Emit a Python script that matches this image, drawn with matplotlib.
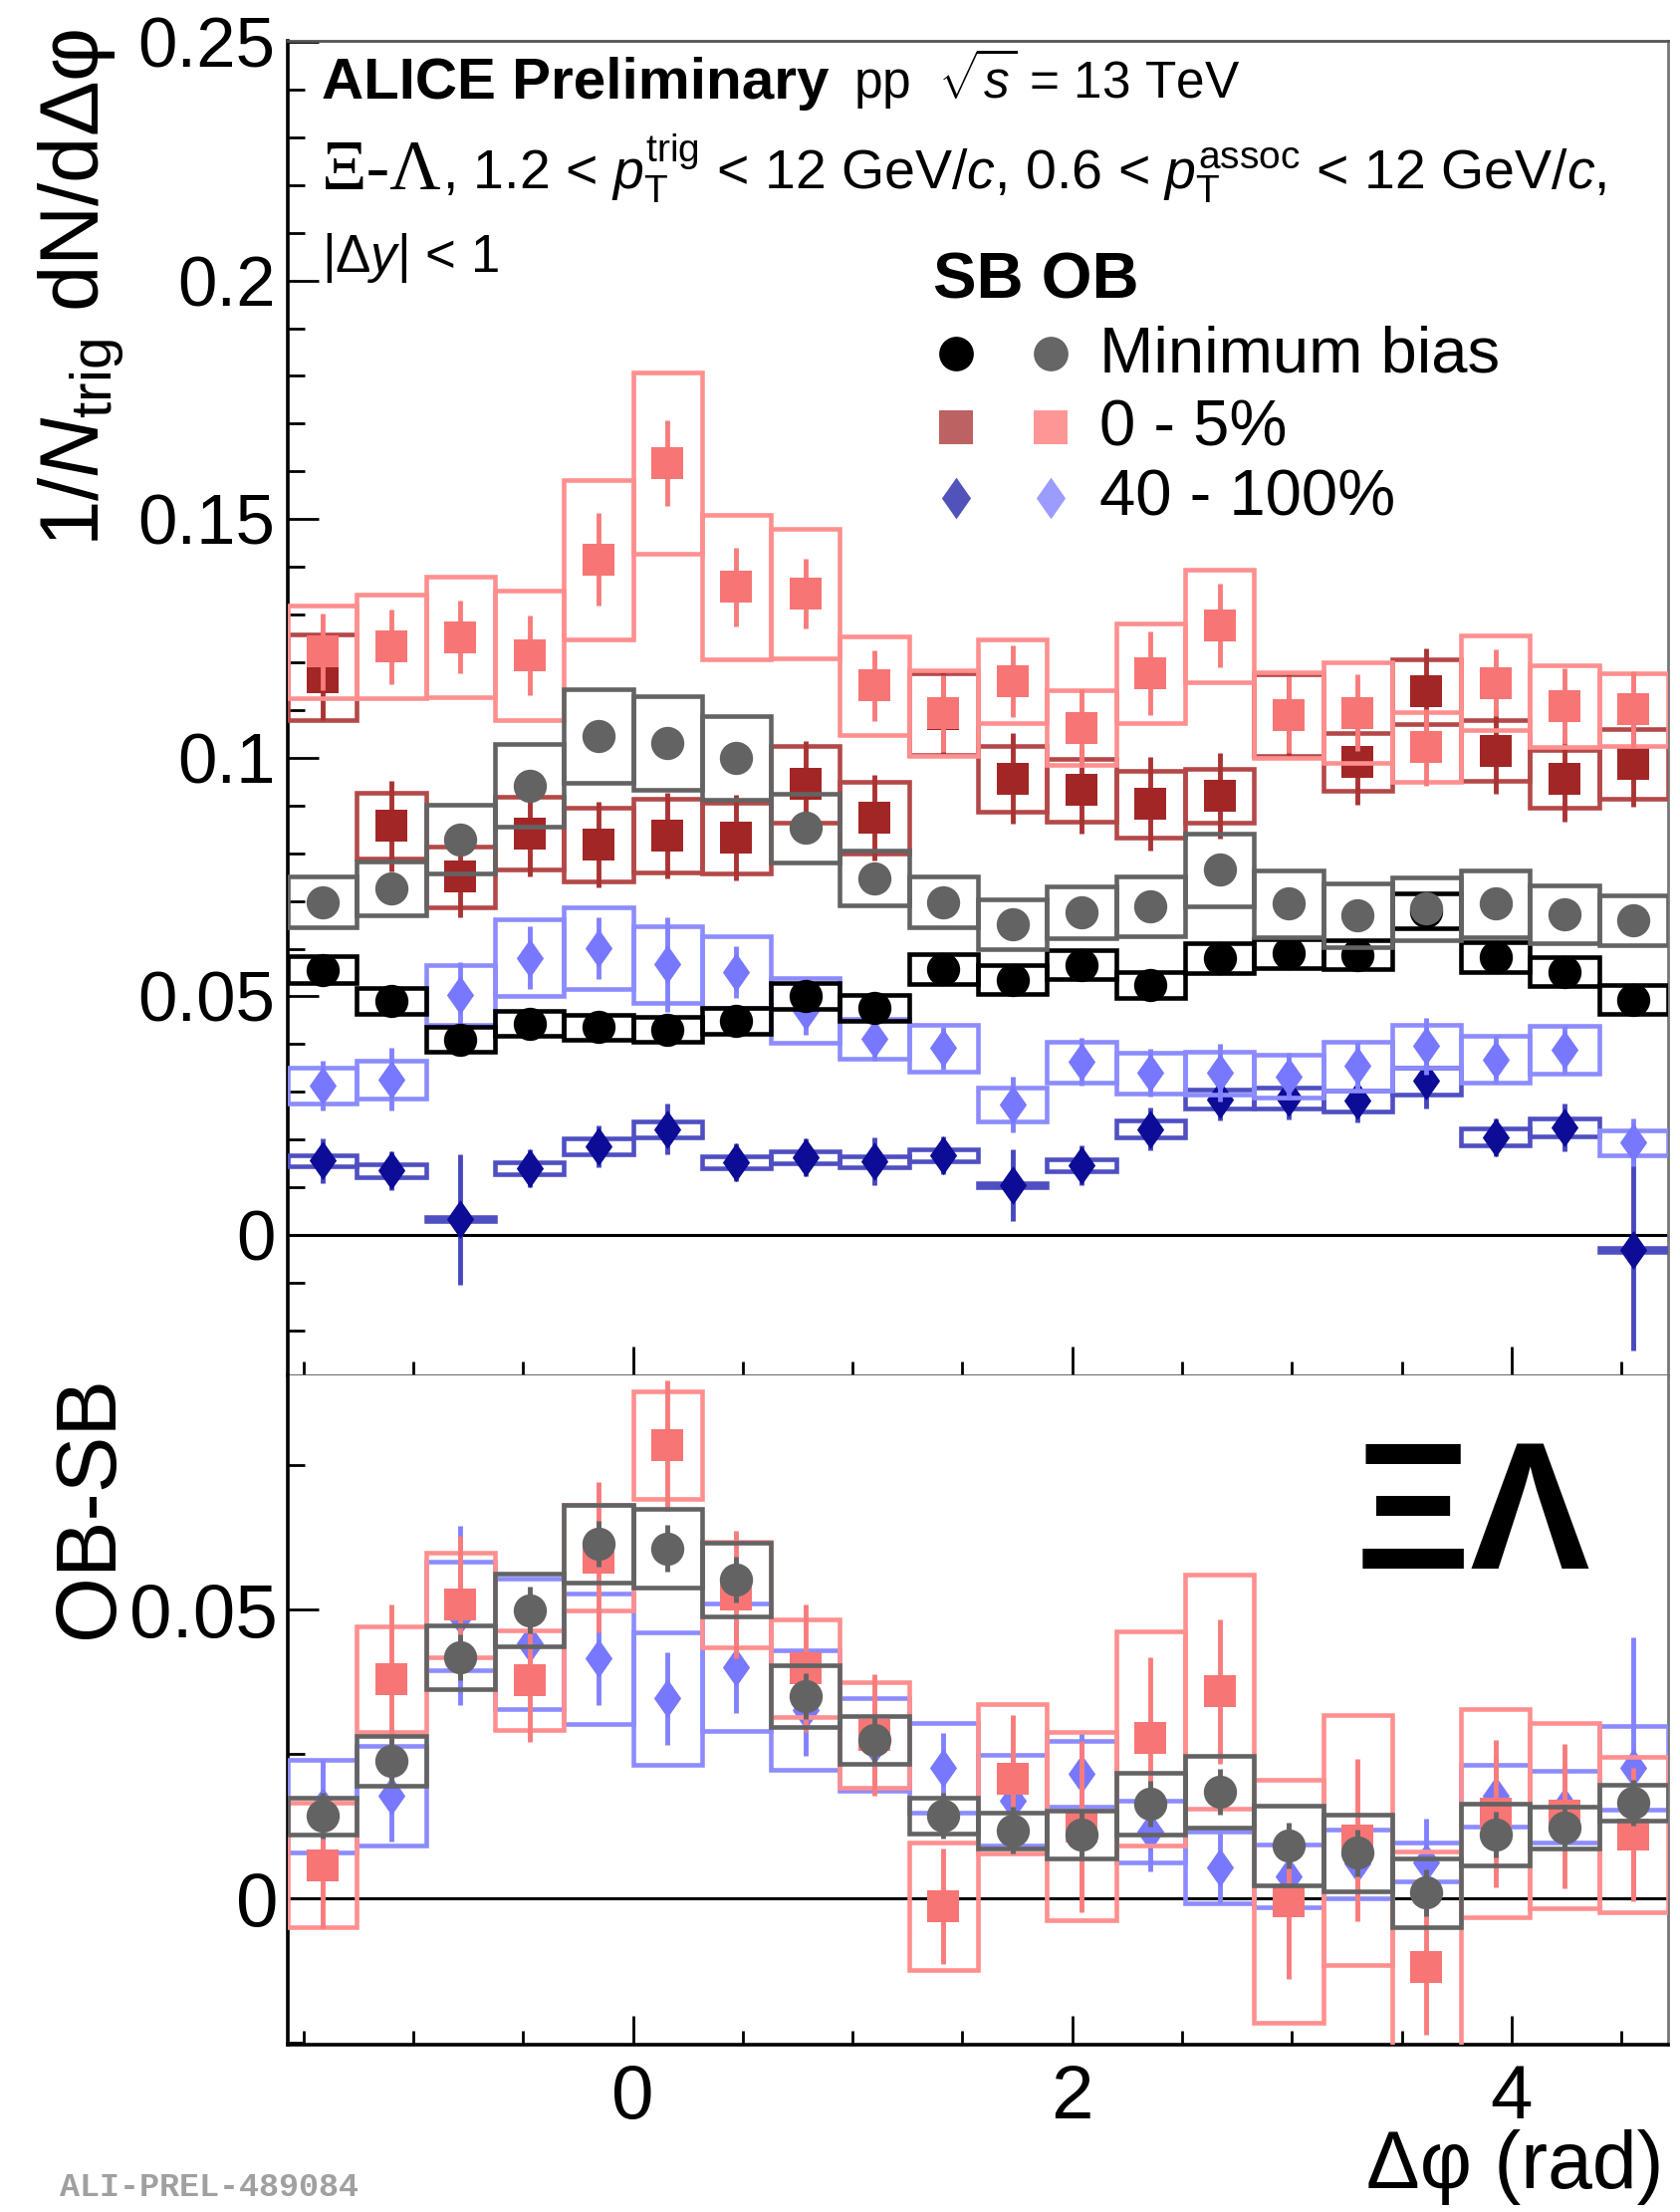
import numpy as np
import matplotlib
matplotlib.use("Agg")
import matplotlib.pyplot as plt
from matplotlib.lines import Line2D
from matplotlib.ticker import MultipleLocator, FuncFormatter

plt.rcParams["font.family"] = ["Liberation Sans", "DejaVu Sans"]
plt.rcParams["mathtext.fontset"] = "custom"
plt.rcParams["mathtext.rm"] = "Liberation Sans"
plt.rcParams["mathtext.it"] = "Liberation Sans:italic"
plt.rcParams["mathtext.bf"] = "Liberation Sans:bold"

# ---- per-trigger yields, 20 delta-phi bins over [-pi/2, 3pi/2] -------------
# minimum bias, same-baryon-number (SB) and opposite (OB) pairs
mb_sb      = [0.0556, 0.0490, 0.0410, 0.0443, 0.0436, 0.0431, 0.0448, 0.0501, 0.0476, 0.0557,
              0.0535, 0.0566, 0.0524, 0.0580, 0.0590, 0.0587, 0.0679, 0.0583, 0.0552, 0.0493]
mb_sb_stat = [0.0020] * 20
mb_sb_sys  = [0.0028, 0.0027, 0.0026, 0.0026, 0.0026, 0.0026, 0.0027, 0.0028, 0.0027, 0.0031,
              0.0030, 0.0030, 0.0028, 0.0031, 0.0030, 0.0030, 0.0036, 0.0031, 0.0031, 0.0030]
mb_ob      = [0.0698, 0.0727, 0.0829, 0.0942, 0.1046, 0.1030, 0.0999, 0.0853, 0.0748, 0.0698,
              0.0651, 0.0677, 0.0689, 0.0765, 0.0694, 0.0670, 0.0684, 0.0694, 0.0672, 0.0660]
mb_ob_stat = [0.0025] * 20
mb_ob_sys  = [0.0054, 0.0056, 0.0072, 0.0087, 0.0098, 0.0098, 0.0088, 0.0072, 0.0057, 0.0054,
              0.0052, 0.0054, 0.0063, 0.0076, 0.0069, 0.0066, 0.0066, 0.0069, 0.0060, 0.0052]

# 0-5 % multiplicity class
c05_sb      = [0.1169, 0.0857, 0.0751, 0.0842, 0.0818, 0.0837, 0.0832, 0.0945, 0.0874, 0.1091,
               0.0956, 0.0932, 0.0903, 0.0921, 0.1089, 0.0991, 0.1139, 0.1015, 0.0956, 0.0988]
c05_sb_stat = [0.0090, 0.0095, 0.0085, 0.0090, 0.0090, 0.0090, 0.0090, 0.0090, 0.0090, 0.0090,
               0.0095, 0.0090, 0.0098, 0.0090, 0.0090, 0.0090, 0.0090, 0.0090, 0.0090, 0.0090]
c05_sb_sys  = [0.0090, 0.0069, 0.0064, 0.0077, 0.0077, 0.0077, 0.0074, 0.0080, 0.0075, 0.0085,
               0.0069, 0.0065, 0.0070, 0.0056, 0.0085, 0.0060, 0.0068, 0.0064, 0.0060, 0.0073]
c05_ob      = [0.1222, 0.1233, 0.1253, 0.1215, 0.1415, 0.1617, 0.1358, 0.1344, 0.1151, 0.1093,
               0.1160, 0.1063, 0.1177, 0.1277, 0.1090, 0.1094, 0.1022, 0.1157, 0.1108, 0.1101]
c05_ob_stat = [0.0080, 0.0078, 0.0076, 0.0084, 0.0097, 0.0090, 0.0082, 0.0074, 0.0075, 0.0080,
               0.0075, 0.0080, 0.0087, 0.0087, 0.0080, 0.0080, 0.0080, 0.0070, 0.0080, 0.0080]
c05_ob_sys  = [0.0097, 0.0109, 0.0127, 0.0135, 0.0167, 0.0190, 0.0151, 0.0135, 0.0103, 0.0090,
               0.0087, 0.0078, 0.0104, 0.0118, 0.0090, 0.0105, 0.0073, 0.0099, 0.0085, 0.0076]

# 40-100 % multiplicity class
c40_sb      = [0.0156, 0.0135, 0.0033, 0.0140, 0.0186, 0.0222, 0.0153, 0.0163, 0.0154, 0.0167,
               0.0104, 0.0146, 0.0222, 0.0285, 0.0288, 0.0281, 0.0323, 0.0205, 0.0226, -0.0031]
c40_sb_stat = [0.0047, 0.0040, 0.0137, 0.0040, 0.0043, 0.0053, 0.0040, 0.0040, 0.0050, 0.0040,
               0.0075, 0.0042, 0.0045, 0.0045, 0.0045, 0.0045, 0.0058, 0.0040, 0.0050, 0.0210]
c40_sb_sys  = [0.0012, 0.0013, 0.0004, 0.0012, 0.0017, 0.0017, 0.0012, 0.0012, 0.0012, 0.0012,
               0.0004, 0.0012, 0.0018, 0.0020, 0.0022, 0.0022, 0.0028, 0.0018, 0.0019, 0.0004]
c40_ob      = [0.0313, 0.0326, 0.0503, 0.0581, 0.0601, 0.0567, 0.0551, 0.0470, 0.0411, 0.0392,
               0.0274, 0.0363, 0.0340, 0.0340, 0.0333, 0.0354, 0.0396, 0.0368, 0.0389, 0.0194]
c40_ob_stat = [0.0052, 0.0066, 0.0069, 0.0066, 0.0065, 0.0099, 0.0055, 0.0050, 0.0045, 0.0045,
               0.0059, 0.0050, 0.0050, 0.0060, 0.0050, 0.0050, 0.0060, 0.0050, 0.0050, 0.0050]
c40_ob_sys  = [0.0038, 0.0040, 0.0062, 0.0080, 0.0085, 0.0080, 0.0075, 0.0068, 0.0042, 0.0049,
               0.0035, 0.0043, 0.0043, 0.0045, 0.0045, 0.0052, 0.0045, 0.0049, 0.0050, 0.0026]

# OB - SB differences
mb_diff       = [0.0143, 0.0238, 0.0417, 0.0499, 0.0614, 0.0606, 0.0552, 0.0350, 0.0274, 0.0143,
                 0.0118, 0.0111, 0.0164, 0.0185, 0.0092, 0.0079, 0.0010, 0.0111, 0.0123, 0.0166]
mb_diff_stat  = [0.0040] * 20
mb_diff_sys   = [0.0032, 0.0043, 0.0055, 0.0063, 0.0067, 0.0068, 0.0064, 0.0054, 0.0041, 0.0031,
                 0.0031, 0.0041, 0.0053, 0.0062, 0.0069, 0.0066, 0.0060, 0.0053, 0.0036, 0.0031]
c05_diff      = [0.0058, 0.0379, 0.0508, 0.0377, 0.0590, 0.0784, 0.0526, 0.0398, 0.0283, -0.0014,
                 0.0207, 0.0125, 0.0277, 0.0358, -0.0005, 0.0101, -0.0119, 0.0147, 0.0143, 0.0111]
c05_diff_stat = [0.0110, 0.0129, 0.0120, 0.0106, 0.0130, 0.0113, 0.0110, 0.0110, 0.0105, 0.0100,
                 0.0110, 0.0148, 0.0140, 0.0125, 0.0134, 0.0141, 0.0117, 0.0127, 0.0125, 0.0115]
c05_diff_sys  = [0.0108, 0.0091, 0.0091, 0.0086, 0.0091, 0.0093, 0.0091, 0.0084, 0.0091, 0.0110,
                 0.0129, 0.0163, 0.0185, 0.0203, 0.0210, 0.0216, 0.0200, 0.0180, 0.0160, 0.0134]
c40_diff      = [0.0159, 0.0178, 0.0489, 0.0441, 0.0415, 0.0346, 0.0400, 0.0326, 0.0266, 0.0226,
                 0.0170, 0.0216, 0.0116, 0.0053, 0.0039, 0.0060, 0.0063, 0.0178, 0.0159, 0.0226]
c40_diff_stat = [0.0080, 0.0080, 0.0155, 0.0080, 0.0080, 0.0080, 0.0080, 0.0080, 0.0070, 0.0060,
                 0.0080, 0.0070, 0.0070, 0.0060, 0.0060, 0.0060, 0.0075, 0.0070, 0.0070, 0.0225]
c40_diff_sys  = [0.0080, 0.0086, 0.0094, 0.0113, 0.0113, 0.0115, 0.0110, 0.0103, 0.0080, 0.0077,
                 0.0079, 0.0057, 0.0053, 0.0062, 0.0055, 0.0060, 0.0034, 0.0053, 0.0062, 0.0072]

legend_labels = ["Minimum bias", "0 - 5%", "40 - 100%"]

# ---- styles -----------------------------------------------------------------
DIAMOND = [(0, 1), (0.7, 0), (0, -1), (-0.7, 0)]
STY = {
    "mb_sb":  dict(marker="o", mc="black",   box="black",   err="black",   ms=24),
    "mb_ob":  dict(marker="o", mc="#636363", box="#636363", err="#636363", ms=24),
    "c05_sb": dict(marker="s", mc="#A32626", box="#B44848", err="#AA3333", ms=23),
    "c05_ob": dict(marker="s", mc="#F77575", box="#FF8F8F", err="#F87C7C", ms=23),
    "c40_sb": dict(marker=DIAMOND, mc="#0C0C96", box="#4F4FC2", err="#4848BE", ms=28),
    "c40_ob": dict(marker=DIAMOND, mc="#7878FF", box="#8C8CFF", err="#8282FF", ms=28),
}

W, H = 1687, 2221
fig = plt.figure(figsize=(W / 100, H / 100), dpi=100)


def px_axes(l, t, r, b):
    return [l / W, 1 - b / H, (r - l) / W, (b - t) / H]


ax_top = fig.add_axes(px_axes(289, 41, 1675, 1381))
ax_bot = fig.add_axes(px_axes(289, 1381, 1675, 2053))

edges = np.linspace(-np.pi / 2, 1.5 * np.pi, 21)
centers = 0.5 * (edges[:-1] + edges[1:])
bw = edges[1] - edges[0]


def draw_series(ax, y, stat, sys, key, z):
    s = STY[key]
    y = np.asarray(y)
    sys = np.asarray(sys)
    ax.bar(centers, 2 * sys, width=bw, bottom=y - sys, fill=False,
           edgecolor=s["box"], linewidth=3.3, zorder=z)
    ax.errorbar(centers, y, yerr=stat, fmt="none", ecolor=s["err"],
                elinewidth=3.5, capsize=0, zorder=z + 0.1)
    ax.plot(centers, y, ls="none", marker=s["marker"], ms=s["ms"],
            mfc=s["mc"], mec=s["mc"], mew=0, zorder=z + 0.2)


# top panel: SB and OB yields
draw_series(ax_top, c40_sb, c40_sb_stat, c40_sb_sys, "c40_sb", 3)
draw_series(ax_top, c40_ob, c40_ob_stat, c40_ob_sys, "c40_ob", 4)
draw_series(ax_top, c05_sb, c05_sb_stat, c05_sb_sys, "c05_sb", 5)
draw_series(ax_top, c05_ob, c05_ob_stat, c05_ob_sys, "c05_ob", 6)
draw_series(ax_top, mb_sb, mb_sb_stat, mb_sb_sys, "mb_sb", 7)
draw_series(ax_top, mb_ob, mb_ob_stat, mb_ob_sys, "mb_ob", 8)

# bottom panel: OB - SB
draw_series(ax_bot, c40_diff, c40_diff_stat, c40_diff_sys, "c40_ob", 3)
draw_series(ax_bot, c05_diff, c05_diff_stat, c05_diff_sys, "c05_ob", 4)
draw_series(ax_bot, mb_diff, mb_diff_stat, mb_diff_sys, "mb_ob", 5)

fmt = FuncFormatter(lambda v, p: "0" if abs(v) < 1e-9 else f"{v:g}")
for ax in (ax_top, ax_bot):
    ax.axhline(0, color="black", lw=2.2, zorder=2)
    ax.set_xlim(edges[0], edges[-1])
    ax.xaxis.set_major_locator(MultipleLocator(2))
    ax.xaxis.set_minor_locator(MultipleLocator(0.5))
    ax.yaxis.set_major_formatter(fmt)
    ax.tick_params(which="both", direction="in", top=False, right=False,
                   color="black", width=2)
    ax.tick_params(axis="y", which="major", length=22)
    ax.tick_params(axis="y", which="minor", length=12)
    ax.tick_params(axis="x", which="major", length=21)
    ax.tick_params(axis="x", which="minor", length=10)
    ax.spines["left"].set_linewidth(2.6)
    ax.spines["right"].set_color("#777777")
    ax.spines["right"].set_linewidth(2)
    ax.spines["top"].set_color("#555555")
    ax.spines["top"].set_linewidth(2)

ax_top.set_ylim(-0.0294, 0.2502)
ax_top.yaxis.set_major_locator(MultipleLocator(0.05))
ax_top.yaxis.set_minor_locator(MultipleLocator(0.01))
ax_top.tick_params(axis="y", labelsize=51, pad=9)
ax_top.tick_params(axis="x", labelbottom=False)
ax_top.spines["bottom"].set_color("#555555")
ax_top.spines["bottom"].set_linewidth(2)

ax_bot.set_ylim(-0.0253, 0.0905)
ax_bot.yaxis.set_major_locator(MultipleLocator(0.05))
ax_bot.yaxis.set_minor_locator(MultipleLocator(0.025))
ax_bot.tick_params(axis="y", labelsize=55, pad=7)
ax_bot.tick_params(axis="x", labelsize=55, pad=14)
ax_bot.spines["top"].set_visible(False)
ax_bot.spines["bottom"].set_linewidth(2.6)


def ftext(x, y, s, **kw):
    return fig.text(x / W, 1 - y / H, s, **kw)


# axis titles
ftext(82, 28, r"1/$N_{\mathrm{trig}}$ dN/dΔφ", rotation=90, ha="center", va="top", fontsize=60)
ftext(91, 1381, "OB-SB", rotation=90, ha="center", va="top", fontsize=61)
ftext(1671, 2197, "Δφ (rad)", ha="right", va="baseline", fontsize=58)

# header lines
ftext(323, 99, "ALICE Preliminary", fontsize=42, fontweight="bold", va="baseline")
ftext(857, 99, r"pp  $\sqrt{s}$ = 13 TeV", fontsize=37, va="baseline")
ftext(323, 190, "Ξ-Λ", fontsize=51, family="Liberation Serif", va="baseline")
ftext(444, 190, r", 1.2 < $p_{\mathrm{T}}^{\mathrm{trig}}$ < 12 GeV/$c$, 0.6 < "
      r"$p_{\mathrm{T}}^{\mathrm{assoc}}$ < 12 GeV/$c$,", fontsize=40, va="baseline")
ftext(323, 273, r"|Δ$y$| < 1", fontsize=38, va="baseline")

# legend
ftext(937, 299, "SB OB", fontsize=47, fontweight="bold", va="baseline")
leg_rows = [355, 429, 500]
leg_sb = [("o", "black", 25), ("s", "#BD6262", 25), (DIAMOND, "#5252BB", 30)]
leg_ob = [("o", "#666666", 25), ("s", "#FF9696", 25), (DIAMOND, "#9C9CFF", 30)]
for yrow, lab, a, b in zip(leg_rows, legend_labels, leg_sb, leg_ob):
    for xcol, (m, c, ms) in ((960, a), (1055, b)):
        fig.add_artist(Line2D([xcol / W], [1 - yrow / H], transform=fig.transFigure,
                              ls="none", marker=m, ms=ms, mfc=c, mec=c, mew=0))
    ftext(1104, yrow + 18, lab, fontsize=47, va="baseline")

ftext(1361, 1575, "ΞΛ", fontsize=130, fontweight="bold", va="baseline")
ftext(60, 2205, "ALI-PREL-489084", fontsize=24, family="Liberation Mono",
      fontweight="bold", color="#A0A0A0", va="baseline")

fig.savefig("out.png", dpi=100)
